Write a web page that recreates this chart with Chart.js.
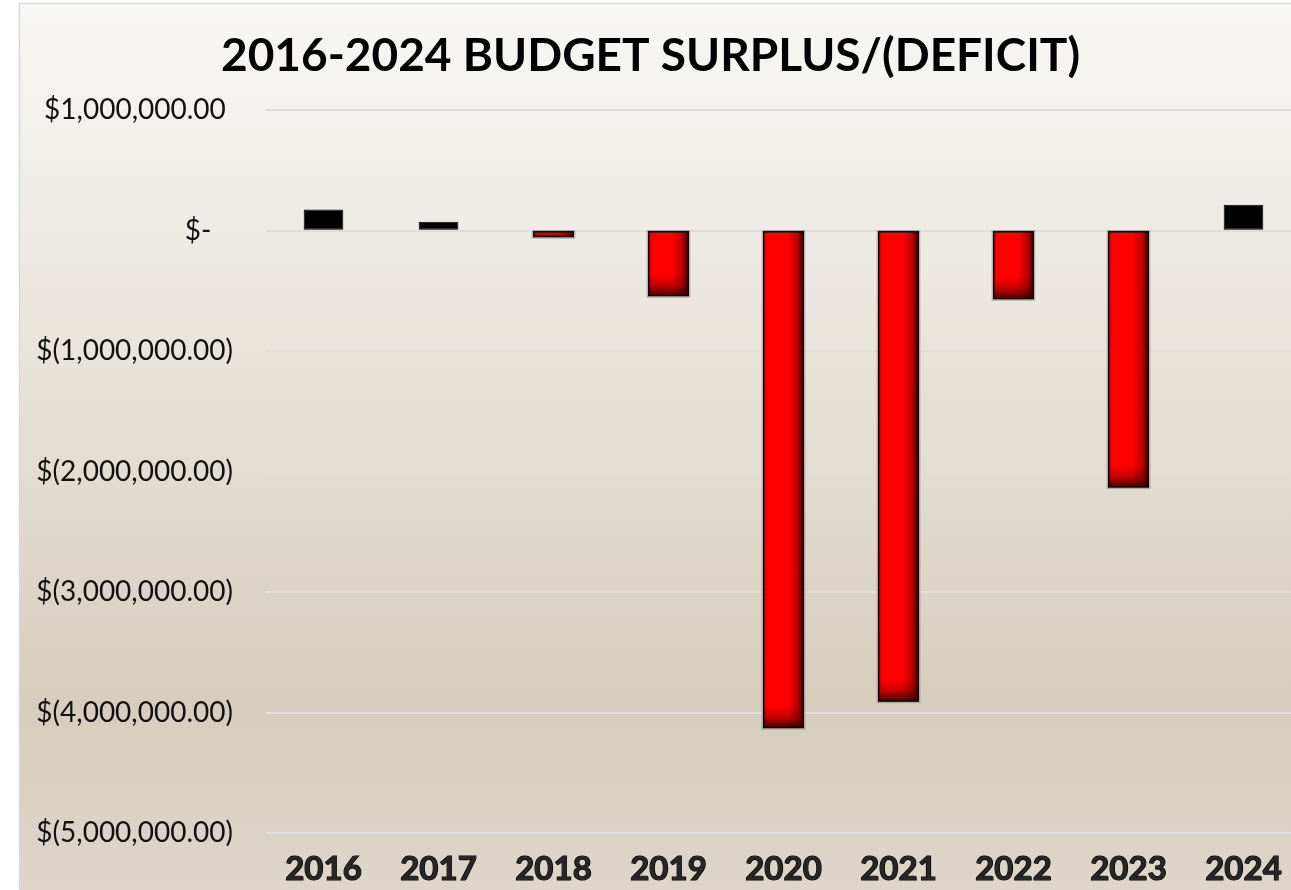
<!DOCTYPE html>
<html>
<head>
<meta charset="utf-8">
<script src="https://cdn.jsdelivr.net/npm/chart.js@4/dist/chart.umd.min.js"></script>
<style>
  html, body { margin: 0; padding: 0; overflow: hidden; background: #ffffff; }
  #wrap { position: absolute; left: 0; top: 0; width: 1301px; height: 890px; }
</style>
</head>
<body>
<div id="wrap"><canvas id="c" width="1301" height="890"></canvas></div>
<script>
// ---- data ----
const categories = ['2016', '2017', '2018', '2019', '2020', '2021', '2022', '2023', '2024'];
const surplusValues = [175000, 75000, -50000, -540000, -4125000, -3905000, -565000, -2128000, 216000];
const yMin = -5000000;
const yMax = 1000000;
const yStep = 1000000;
const chartTitle = '2016-2024 BUDGET SURPLUS/(DEFICIT)';

function accounting(v) {
  if (v === 0) return '$-   ';
  const s = Math.abs(v).toLocaleString('en-US', { minimumFractionDigits: 2, maximumFractionDigits: 2 });
  return v < 0 ? '$(' + s + ')' : '$' + s + ' ';
}

const backgroundPlugin = {
  id: 'panelBg',
  beforeDraw(chart) {
    const ctx = chart.ctx;
    const w = chart.width, h = chart.height;
    ctx.save();
    ctx.fillStyle = '#ffffff';
    ctx.fillRect(0, 0, w, h);
    const g = ctx.createLinearGradient(0, 3, 0, h);
    g.addColorStop(0.0, '#f8f7f5');
    g.addColorStop(0.26, '#eeebe5');
    g.addColorStop(0.53, '#e2dcd1');
    g.addColorStop(0.79, '#d6cdbd');
    g.addColorStop(1.0, '#ddd6c9');
    ctx.fillStyle = g;
    ctx.fillRect(19, 3, w - 19, h - 3);
    ctx.strokeStyle = '#d9d9d9';
    ctx.lineWidth = 1.5;
    ctx.strokeRect(19.5, 3.5, w + 10, h + 10);
    ctx.restore();
  }
};

const barShadePlugin = {
  id: 'barShade',
  afterDatasetsDraw(chart) {
    const ctx = chart.ctx;
    const meta = chart.getDatasetMeta(0);
    const vals = chart.data.datasets[0].data;
    ctx.save();
    meta.data.forEach((el, i) => {
      if (vals[i] >= 0) return;
      const left = el.x - el.width / 2;
      const right = el.x + el.width / 2;
      const top = Math.min(el.y, el.base);
      const bottom = Math.max(el.y, el.base);
      const hg = ctx.createLinearGradient(left, 0, right, 0);
      hg.addColorStop(0, 'rgba(60,0,0,0.35)');
      hg.addColorStop(0.08, 'rgba(60,0,0,0)');
      hg.addColorStop(0.6, 'rgba(60,0,0,0)');
      hg.addColorStop(0.85, 'rgba(60,0,0,0.35)');
      hg.addColorStop(1, 'rgba(40,0,0,0.9)');
      ctx.fillStyle = hg;
      ctx.fillRect(left, top, right - left, bottom - top);
      const shadeH = Math.min(22, bottom - top);
      const vg = ctx.createLinearGradient(0, bottom - shadeH, 0, bottom);
      vg.addColorStop(0, 'rgba(50,0,0,0)');
      vg.addColorStop(0.5, 'rgba(50,0,0,0.25)');
      vg.addColorStop(1, 'rgba(40,0,0,0.85)');
      ctx.fillStyle = vg;
      ctx.fillRect(left, bottom - shadeH, right - left, shadeH);
      ctx.strokeStyle = '#1a0000';
      ctx.lineWidth = 1.5;
      ctx.strokeRect(left, top, right - left, bottom - top);
      ctx.strokeStyle = 'rgba(120,120,120,0.5)';
      ctx.lineWidth = 1;
      ctx.strokeRect(left - 1.5, top - 1, right - left + 3, bottom - top + 2.5);
    });
    ctx.restore();
  }
};

new Chart(document.getElementById('c'), {
  type: 'bar',
  data: {
    labels: categories,
    datasets: [{
      data: surplusValues,
      backgroundColor: (ctx) => (ctx.raw >= 0 ? '#000000' : '#ff0000'),
      borderColor: (ctx) => (ctx.raw >= 0 ? '#000000' : '#1a0000'),
      borderWidth: 1,
      borderSkipped: false,
      barPercentage: 0.69,
      categoryPercentage: 0.5
    }]
  },
  options: {
    responsive: false,
    animation: false,
    devicePixelRatio: 1,
    layout: { padding: { left: 0, right: 0, top: 0, bottom: 9 } },
    plugins: {
      legend: { display: false },
      tooltip: { enabled: false },
      title: {
        display: true,
        text: chartTitle,
        color: '#000000',
        font: { family: 'Lato', size: 46, weight: 'bold', lineHeight: 1.2 },
        padding: { top: 29, bottom: 26 }
      }
    },
    scales: {
      x: {
        grid: { display: false, drawTicks: false },
        border: { display: false },
        afterFit(scale) { scale.height = 48; },
        ticks: {
          color: '#262626',
          textStrokeColor: '#000000',
          textStrokeWidth: 1.2,
          padding: 17,
          font: { family: 'Lato', size: 33, weight: 'bold' }
        }
      },
      y: {
        min: yMin,
        max: yMax,
        afterFit(scale) { scale.width = 266; },
        grid: { color: '#dedede', lineWidth: 2, drawTicks: false },
        border: { display: false },
        ticks: {
          stepSize: yStep,
          padding: 33,
          color: '#111111',
          font: { family: 'Lato', size: 28 },
          callback: (v) => accounting(v)
        }
      }
    }
  },
  plugins: [backgroundPlugin, barShadePlugin]
});
</script>
</body>
</html>
